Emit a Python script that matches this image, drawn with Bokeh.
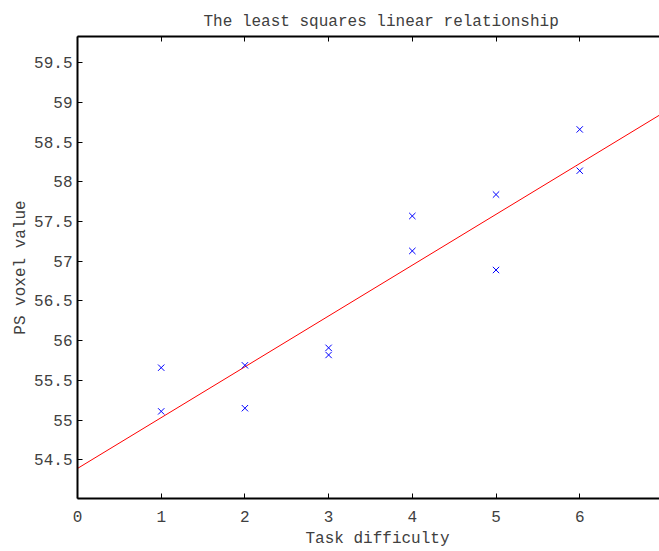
import numpy as np
from bokeh.plotting import figure
from bokeh.models import LinearAxis, FixedTicker, Range1d, Title
from bokeh.embed import file_html
from bokeh.resources import INLINE

# ---- data ----
task_difficulty = [1, 1, 2, 2, 3, 3, 4, 4, 5, 5, 6, 6]
ps_voxel_value = [55.66, 55.11, 55.69, 55.15, 55.91, 55.82,
                  57.57, 57.13, 57.84, 56.89, 58.66, 58.14]
x_ticks = [0, 1, 2, 3, 4, 5, 6]
y_ticks = [54.5, 55, 55.5, 56, 56.5, 57, 57.5, 58, 58.5, 59, 59.5]
y_tick_labels = ["54.5", "55", "55.5", "56", "56.5", "57", "57.5",
                 "58", "58.5", "59", "59.5"]
fit_x = [0, 7]

# least squares fit
slope, intercept = np.polyfit(task_difficulty, ps_voxel_value, 1)
fit_y = [intercept + slope * v for v in fit_x]

FONT = "Liberation Mono"
TXT = "#404040"

X0, X1 = 0, 6.953
Y0, Y1 = 54.013, 59.83

p = figure(width=659, height=551,
           x_range=Range1d(X0, X1), y_range=Range1d(Y0, Y1),
           output_backend="svg", toolbar_location=None,
           min_border_left=77, min_border_right=0,
           min_border_top=36, min_border_bottom=53,
           x_axis_location=None, y_axis_location=None)
p.xgrid.visible = False
p.ygrid.visible = False
p.outline_line_color = None
p.background_fill_color = "white"
p.border_fill_color = "white"

def style(ax):
    ax.axis_line_color = "black"
    ax.axis_line_width = 2
    ax.major_tick_in = 5
    ax.major_tick_out = 0
    ax.major_tick_line_color = "black"
    ax.minor_tick_line_color = None
    ax.major_label_text_font = FONT
    ax.major_label_text_color = TXT
    ax.major_label_text_font_size = "16px"
    ax.axis_label_text_font = FONT
    ax.axis_label_text_color = TXT
    ax.axis_label_text_font_size = "16px"
    ax.axis_label_text_font_style = "normal"

xb = LinearAxis(ticker=FixedTicker(ticks=x_ticks))
style(xb)
xb.major_label_standoff = 12
p.add_layout(xb, "below")

xa = LinearAxis(ticker=FixedTicker(ticks=x_ticks))
style(xa)
xa.major_label_overrides = {t: "" for t in x_ticks}
xa.major_label_standoff = 0
p.add_layout(xa, "above")

yl = LinearAxis(ticker=FixedTicker(ticks=y_ticks), axis_label="PS voxel value")
style(yl)
yl.major_label_overrides = {t: s for t, s in zip(y_ticks, y_tick_labels)}
yl.major_label_standoff = 5
yl.axis_label_standoff = 1
p.add_layout(yl, "left")

p.title.text = "The least squares linear relationship"
p.title.align = "left"
p.title.offset = 126
p.title.standoff = 12
p.title.text_font = FONT
p.title.text_font_size = "16px"
p.title.text_font_style = "normal"
p.title.text_color = TXT

# x-axis label as a title below the axis (offset like the reference)
p.add_layout(Title(text="Task difficulty", align="left", offset=228,
                   standoff=7, text_font=FONT, text_font_size="16px",
                   text_font_style="normal", text_color=TXT), "below")

p.line(fit_x, fit_y, line_color="red", line_width=1)
p.scatter(task_difficulty, ps_voxel_value, marker="x", size=9,
          line_color="blue", line_width=1)

open("out.html", "w").write(file_html(p, INLINE))
